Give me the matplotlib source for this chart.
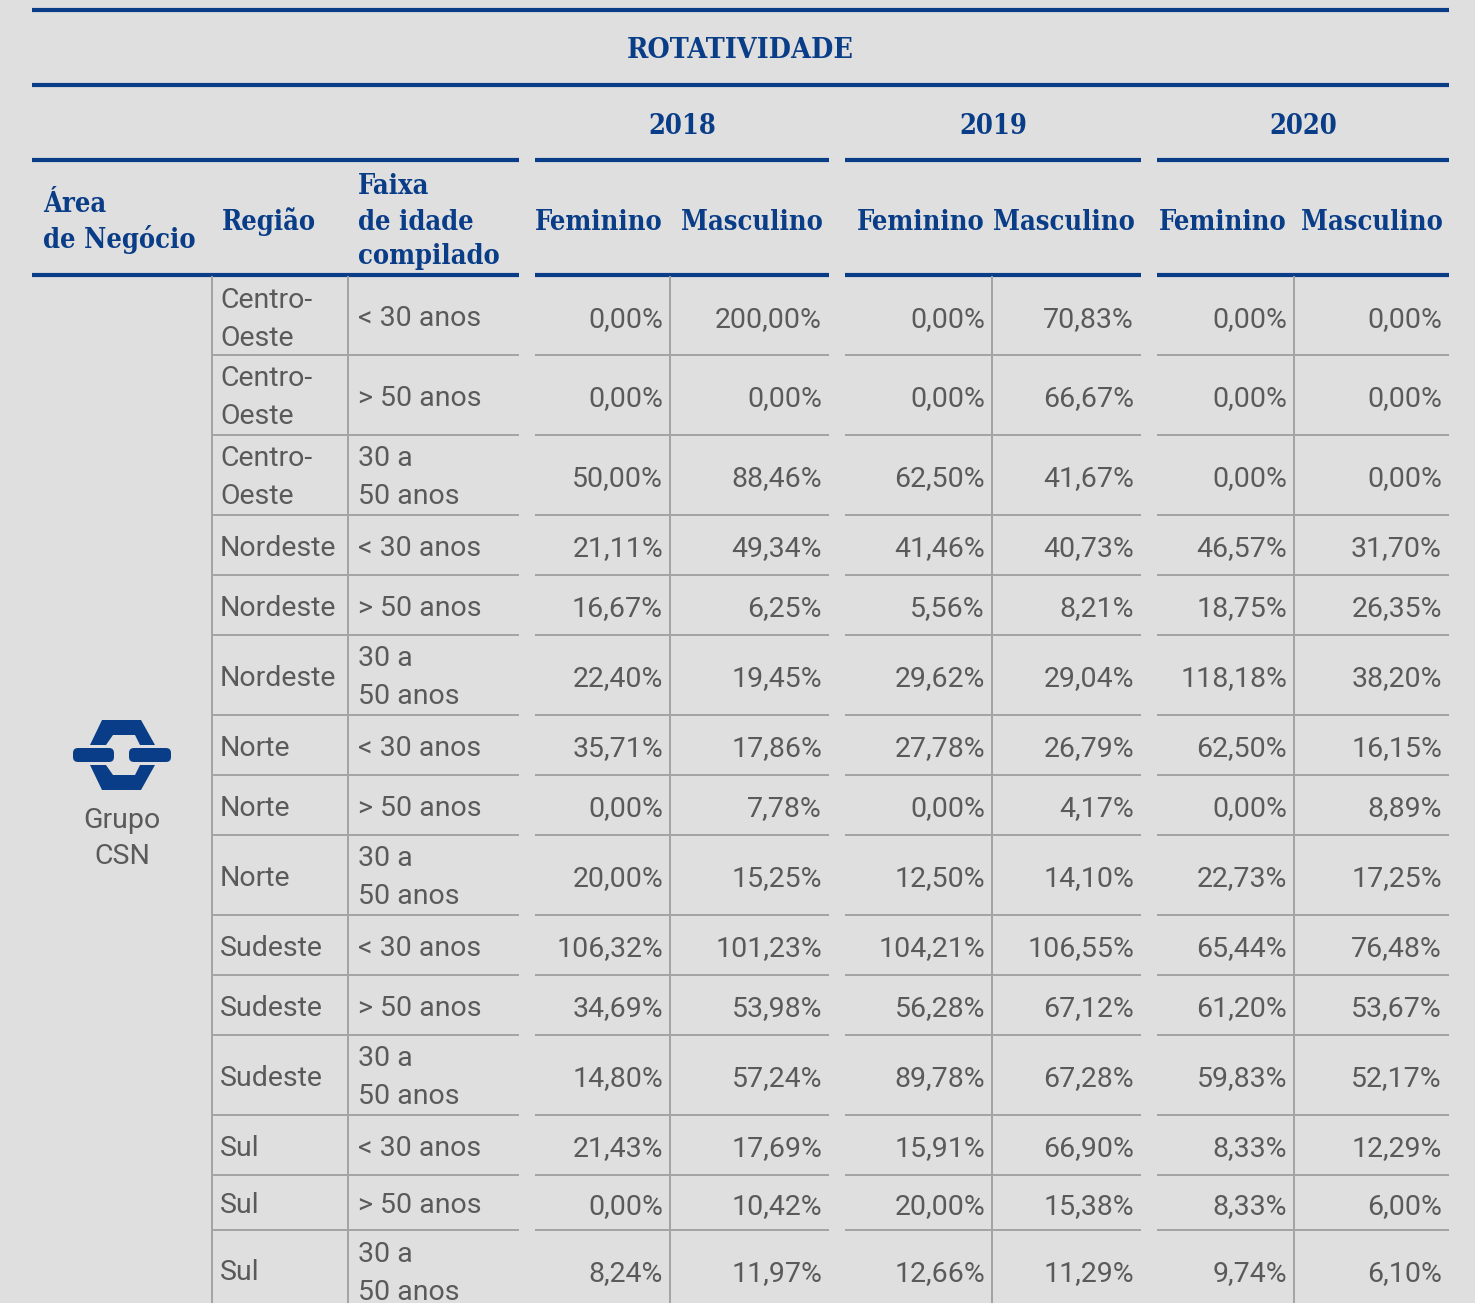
import matplotlib.pyplot as plt
from matplotlib.patches import Polygon, FancyBboxPatch

# dados da tabela
regioes = ["Centro-\nOeste", "Centro-\nOeste", "Centro-\nOeste",
           "Nordeste", "Nordeste", "Nordeste",
           "Norte", "Norte", "Norte",
           "Sudeste", "Sudeste", "Sudeste",
           "Sul", "Sul", "Sul"]
faixas = ["< 30 anos", "> 50 anos", "30 a\n50 anos"] * 5
anos = ["2018", "2019", "2020"]
generos = ["Feminino", "Masculino"]

fem_2018 = ["0,00%", "0,00%", "50,00%", "21,11%", "16,67%", "22,40%", "35,71%", "0,00%",
            "20,00%", "106,32%", "34,69%", "14,80%", "21,43%", "0,00%", "8,24%"]
mas_2018 = ["200,00%", "0,00%", "88,46%", "49,34%", "6,25%", "19,45%", "17,86%", "7,78%",
            "15,25%", "101,23%", "53,98%", "57,24%", "17,69%", "10,42%", "11,97%"]
fem_2019 = ["0,00%", "0,00%", "62,50%", "41,46%", "5,56%", "29,62%", "27,78%", "0,00%",
            "12,50%", "104,21%", "56,28%", "89,78%", "15,91%", "20,00%", "12,66%"]
mas_2019 = ["70,83%", "66,67%", "41,67%", "40,73%", "8,21%", "29,04%", "26,79%", "4,17%",
            "14,10%", "106,55%", "67,12%", "67,28%", "66,90%", "15,38%", "11,29%"]
fem_2020 = ["0,00%", "0,00%", "0,00%", "46,57%", "18,75%", "118,18%", "62,50%", "0,00%",
            "22,73%", "65,44%", "61,20%", "59,83%", "8,33%", "8,33%", "9,74%"]
mas_2020 = ["0,00%", "0,00%", "0,00%", "31,70%", "26,35%", "38,20%", "16,15%", "8,89%",
            "17,25%", "76,48%", "53,67%", "52,17%", "12,29%", "6,00%", "6,10%"]
colunas = [fem_2018, mas_2018, fem_2019, mas_2019, fem_2020, mas_2020]

# layout (pixels)
linhas_y = [277, 355, 435, 515, 575, 635, 715, 775, 835, 915, 975, 1035, 1115, 1175, 1230, 1310]
blocos = [(212, 519), (535, 829), (845, 1141), (1157, 1449)]
x_valores = [663, 822, 985, 1134, 1287, 1442]
x_divisoes = [212, 348, 670, 992, 1294]

azul = "#0a3d87"
cinza = "#5a5a5a"
cinza_linha = "#a3a3a3"
fundo = "#dfdfdf"

fig = plt.figure(figsize=(14.75, 13.03), dpi=100, facecolor=fundo)
ax = fig.add_axes([0, 0, 1, 1])
ax.set_xlim(0, 1475)
ax.set_ylim(1303, 0)
ax.axis("off")

cab = dict(family="DejaVu Serif", fontstretch="condensed", fontweight="bold",
           color=azul, fontsize=19.5)
dado = dict(family="Roboto", color=cinza, fontsize=20.5)

# linhas azuis do cabecalho
lw_azul = 3.0
ax.plot([32, 1449], [10, 10], color=azul, lw=lw_azul, solid_capstyle="butt")
ax.plot([32, 1449], [85, 85], color=azul, lw=lw_azul, solid_capstyle="butt")
segs = [(32, 519), (535, 829), (845, 1141), (1157, 1449)]
for y in [160, 275]:
    for a, b in segs:
        ax.plot([a, b], [y, y], color=azul, lw=lw_azul, solid_capstyle="butt")

ax.text(740, 51, "ROTATIVIDADE", ha="center", va="center",
        **{**cab, "fontsize": 20.5})
for i, ano in enumerate(anos):
    a, b = segs[i + 1]
    ax.text((a + b) / 2, 127, ano, ha="center", va="center", **cab)
x_gen = [599, 752, 921, 1064, 1223, 1372]
for i, x in enumerate(x_gen):
    ax.text(x, 223, generos[i % 2], ha="center", va="center", **cab)

ax.text(43, 205, "Área", ha="left", va="center", **cab)
ax.text(43, 239, "de Negócio", ha="left", va="center", **cab)
ax.text(222, 222, "Região", ha="left", va="center", **cab)
for y, t in zip([187, 222, 257], ["Faixa", "de idade", "compilado"]):
    ax.text(358, y, t, ha="left", va="center", **cab)

# grade cinza
for y in linhas_y[1:-1]:
    for a, b in blocos:
        ax.plot([a, b], [y, y], color=cinza_linha, lw=1.4, solid_capstyle="butt")
for x in x_divisoes:
    ax.plot([x, x], [277, 1303], color=cinza_linha, lw=1.4)


def escreve(x, yc, texto, ha):
    partes = texto.split("\n")
    if len(partes) == 1:
        ax.text(x, yc + 3, texto, ha=ha, va="center", **dado)
    else:
        ax.text(x, yc - 16, partes[0], ha=ha, va="center", **dado)
        ax.text(x, yc + 22, partes[1], ha=ha, va="center", **dado)


for i in range(len(regioes)):
    yc = (linhas_y[i] + linhas_y[i + 1]) / 2
    escreve(220, yc, regioes[i], "left")
    escreve(358, yc, faixas[i], "left")
    for j, col in enumerate(colunas):
        ax.text(x_valores[j], yc + 4, col[i], ha="right", va="center", **dado)

# logo CSN
topo = [(90, 745), (102, 720), (141, 720), (155, 745), (140, 745), (135, 735), (113, 735), (106, 745)]
ax.add_patch(Polygon(topo, closed=True, color=azul, lw=0))
base = [(x, 1510 - y) for x, y in topo]
ax.add_patch(Polygon(base, closed=True, color=azul, lw=0))
for x0, x1 in [(73, 114), (129, 171)]:
    ax.add_patch(FancyBboxPatch((x0 + 5, 748 + 5), x1 - x0 - 10, 4,
                                boxstyle="round,pad=5", color=azul, lw=0))
ax.text(122, 821, "Grupo", ha="center", va="center", **dado)
ax.text(122, 857, "CSN", ha="center", va="center", **dado)

fig.savefig("out.png", dpi=100, facecolor=fundo)
